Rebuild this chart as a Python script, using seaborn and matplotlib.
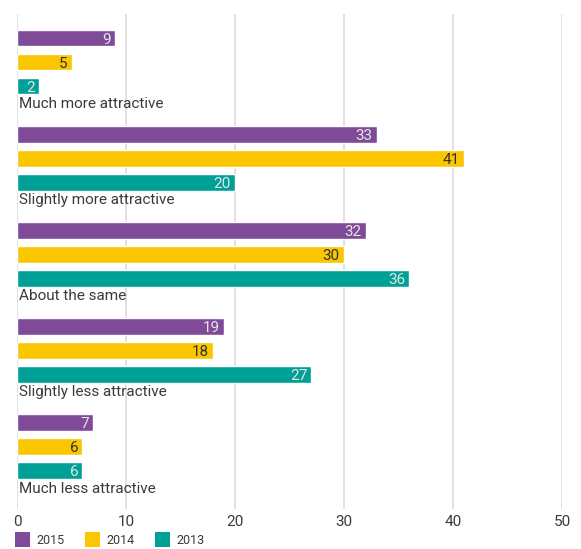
import matplotlib
matplotlib.use("Agg")
import matplotlib.pyplot as plt
from matplotlib.patches import Patch
import seaborn as sns
import pandas as pd

categories = [
    "Much more attractive",
    "Slightly more attractive",
    "About the same",
    "Slightly less attractive",
    "Much less attractive",
]
years = ["2015", "2014", "2013"]
values_2015 = [9, 33, 32, 19, 7]
values_2014 = [5, 41, 30, 18, 6]
values_2013 = [2, 20, 36, 27, 6]
x_ticks = [0, 10, 20, 30, 40, 50]

colors = {"2015": "#7f4a97", "2014": "#f9c600", "2013": "#00a096"}
label_colors = {"2015": "#e6e6e6", "2014": "#333333", "2013": "#e6e6e6"}

series = {"2015": values_2015, "2014": values_2014, "2013": values_2013}

# one row per bar, plus an empty row under each group for its caption
rows, order = [], []
for i, cat in enumerate(categories):
    for yr in years:
        key = f"{cat}|{yr}"
        order.append(key)
        rows.append({"row": key, "year": yr, "value": series[yr][i]})
    order.append(f"{cat}|caption")
df = pd.DataFrame(rows)

sns.set_theme(style="white")
plt.rcParams["font.family"] = ["Roboto", "DejaVu Sans"]

fig = plt.figure(figsize=(5.81, 5.49), dpi=100)
ax = fig.add_axes([17 / 581, 40 / 549, 545 / 581, 495 / 549])

sns.barplot(
    data=df, x="value", y="row", hue="year", order=order,
    hue_order=years, palette=colors, dodge=False, width=0.7,
    orient="h", ax=ax, legend=False, saturation=1,
)

ax.set_xlim(0, 50)
ax.set_ylim(19.6, -1.0)
ax.set_xticks(x_ticks)
ax.set_xticklabels([str(t) for t in x_ticks], fontsize=11, color="#3a3a3a")
ax.set_yticks([])
ax.set_xlabel("")
ax.set_ylabel("")
ax.tick_params(axis="x", length=0, pad=4)
ax.grid(axis="x", color="#dcdcdc", linewidth=1.2)
ax.set_axisbelow(True)
for s in ax.spines.values():
    s.set_visible(False)

# value labels inside bar ends
for container, yr in zip(ax.containers, years):
    texts = ax.bar_label(container, labels=[str(v) for v in series[yr]],
                         label_type="edge", padding=-3, fontsize=11,
                         color=label_colors[yr])
    for t in texts:
        t.set_ha("right")
        t.set_va("center_baseline")

# category captions beneath each group
for i, cat in enumerate(categories):
    ax.text(0.15, order.index(f"{cat}|caption") - 0.25, cat,
            fontsize=11, color="#3a3a3a", va="center", ha="left")

handles = [Patch(facecolor=colors[y], edgecolor="none", label=y) for y in years]
fig.legend(handles=handles, loc="lower left", bbox_to_anchor=(15 / 581, 0.003),
           ncol=3, frameon=False, handlelength=1.2,
           handleheight=1.47, handletextpad=0.55, columnspacing=1.6,
           borderpad=0, borderaxespad=0, labelcolor="#3a3a3a",
           prop={"size": 9})

fig.savefig("out.png", dpi=100)
